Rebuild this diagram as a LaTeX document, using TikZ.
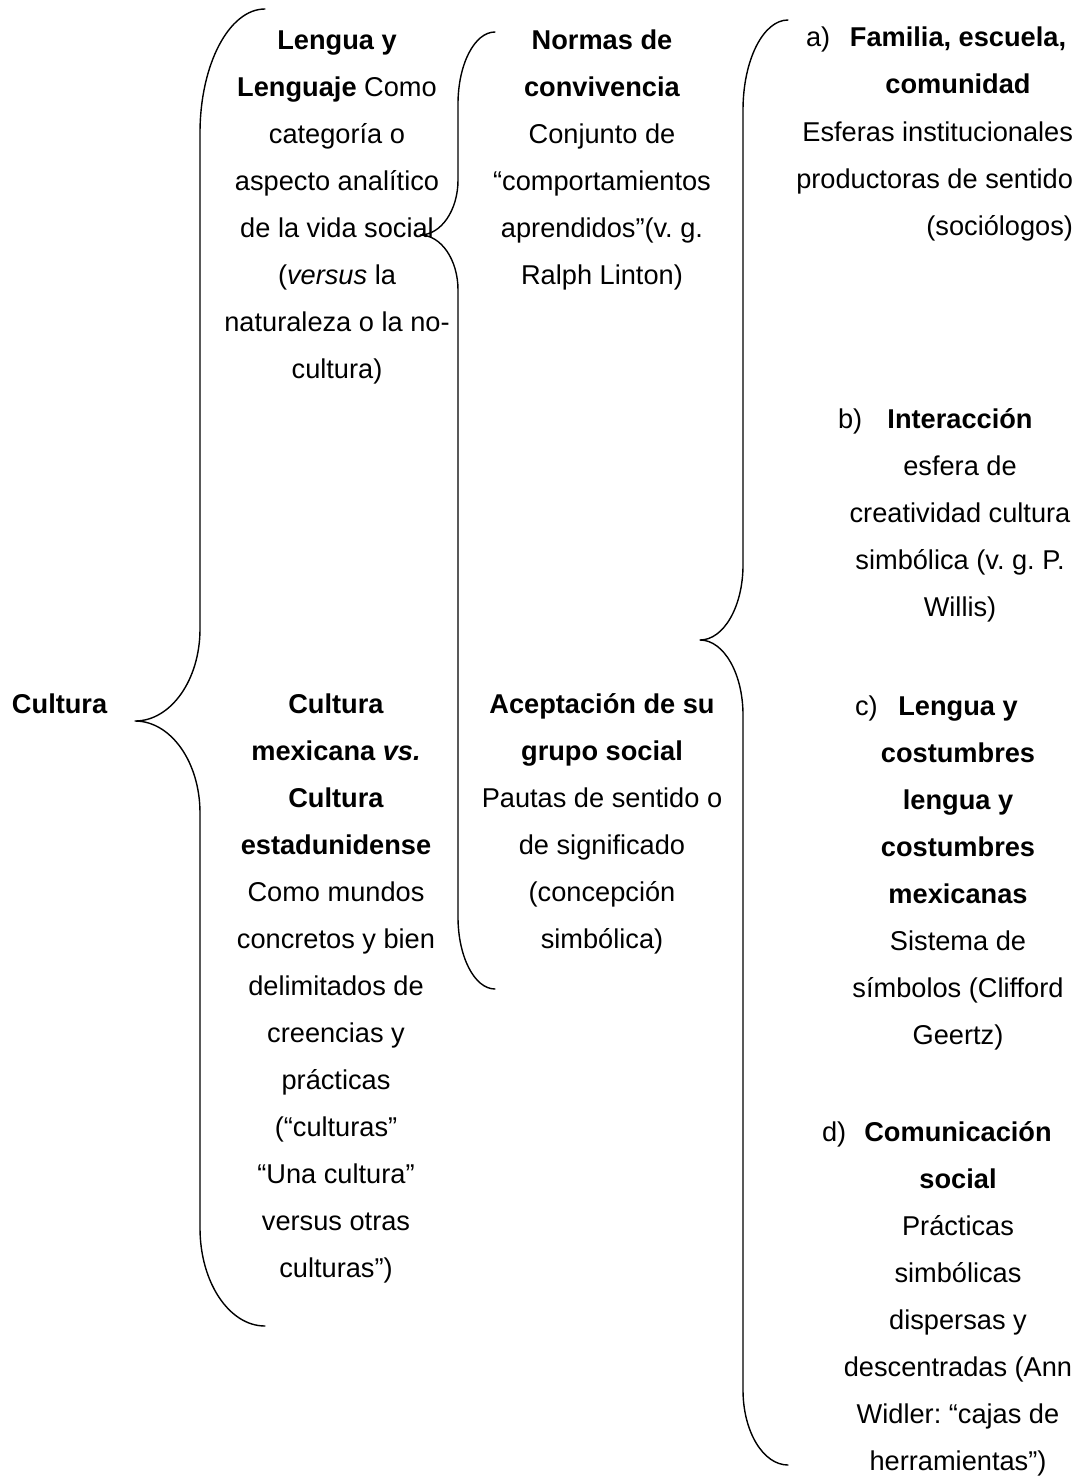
\documentclass[tikz,border=0pt]{standalone}
\usepackage{fontspec}
\setmainfont{Liberation Sans}
\frenchspacing
\newcommand{\mybrace}[9]{%
  \pgfmathsetmacro\bk{0.5523}%
  \pgfmathsetmacro\bA{#1-\bk*(#1-#2)}%
  \pgfmathsetmacro\bB{#4+#7}%
  \pgfmathsetmacro\bC{#4+#7-\bk*#7}%
  \pgfmathsetmacro\bD{#5-#8}%
  \pgfmathsetmacro\bE{#5-#8+\bk*#8}%
  \pgfmathsetmacro\bF{#3+\bk*(#2-#3)}%
  \pgfmathsetmacro\bG{#5+#8-\bk*#8}%
  \pgfmathsetmacro\bH{#5+#8}%
  \pgfmathsetmacro\bI{#6-#9}%
  \pgfmathsetmacro\bJ{#6-#9+\bk*#9}%
  \draw[bracestyle] (#1,#4) .. controls (\bA,#4) and (#2,\bC) .. (#2,\bB)
    -- (#2,\bD) .. controls (#2,\bE) and (\bF,#5) .. (#3,#5)
    .. controls (\bF,#5) and (#2,\bG) .. (#2,\bH)
    -- (#2,\bI) .. controls (#2,\bJ) and (\bA,#6) .. (#1,#6);
}
\begin{document}
\begin{tikzpicture}[x=1pt,y=-1pt,
  bracestyle/.style={line width=1.4pt, line cap=round, line join=round},
  txt/.style={inner sep=0pt, outer sep=0pt, align=center, anchor=base,
    font=\fontsize{27.2pt}{47pt}\selectfont\frenchspacing},
  rtxt/.style={txt, align=right, anchor=base east},
  lbl/.style={txt, anchor=base west}]
\useasboundingbox (0,0) rectangle (1081,1482);

% (multi-line nodes are anchored at the baseline of their last line)
\node[lbl] (cultura) at (12,713) {\textbf{Cultura}};

\node[txt] (lengua) at (337,378) {\textbf{Lengua y}\\ \textbf{Lenguaje} Como\\ categoría o\\ aspecto analítico\\ de la vida social\\ (\textit{versus} la\\ naturaleza o la no-\\ cultura)};

\node[txt] (mexicana) at (336,1277) {\textbf{Cultura}\\ \textbf{mexicana \textit{vs.}}\\ \textbf{Cultura}\\ \textbf{estadunidense}\\ Como mundos\\ concretos y bien\\ delimitados de\\ creencias y\\ prácticas\\ (“culturas”\\ “Una cultura”\\ versus otras\\ culturas”)};

\node[txt] (normas) at (602,284) {\textbf{Normas de}\\ \textbf{convivencia}\\ Conjunto de\\ “comportamientos\\ aprendidos”(v. g.\\ Ralph Linton)};

\node[txt] (aceptacion) at (602,948) {\textbf{Aceptación de su}\\ \textbf{grupo social}\\ Pautas de sentido o\\ de significado\\ (concepción\\ simbólica)};

\node[lbl] (la) at (806,47) {a)};
\node[txt] (familia) at (958,94) {\textbf{Familia, escuela,}\\ \textbf{comunidad}};
\node[rtxt] (esferas) at (1073,235) {Esferas institucionales\\ productoras de sentido\\ (sociólogos)};

\node[lbl] (lb) at (838,428) {b)};
\node[txt] (interaccion) at (960,616) {\textbf{Interacción}\\ esfera de\\ creatividad cultura\\ simbólica (v. g. P.\\ Willis)};

\node[lbl] (lc) at (855,715) {c)};
\node[txt] (costumbres) at (958,1044) {\textbf{Lengua y}\\ \textbf{costumbres}\\ \textbf{lengua y}\\ \textbf{costumbres}\\ \textbf{mexicanas}\\ Sistema de\\ símbolos (Clifford\\ Geertz)};

\node[lbl] (ld) at (822,1141) {d)};
\node[txt] (comunicacion) at (958,1470) {\textbf{Comunicación}\\ \textbf{social}\\ Prácticas\\ simbólicas\\ dispersas y\\ descentradas (Ann\\ Widler: “cajas de\\ herramientas”)};

% braces
\mybrace{265}{200}{135}{9}{721}{1326}{124}{92}{98}
\mybrace{495}{458}{420}{32}{235}{989}{72}{55}{72}
\mybrace{788}{743}{700}{20}{640}{1465}{90}{75}{75}
\end{tikzpicture}
\end{document}
